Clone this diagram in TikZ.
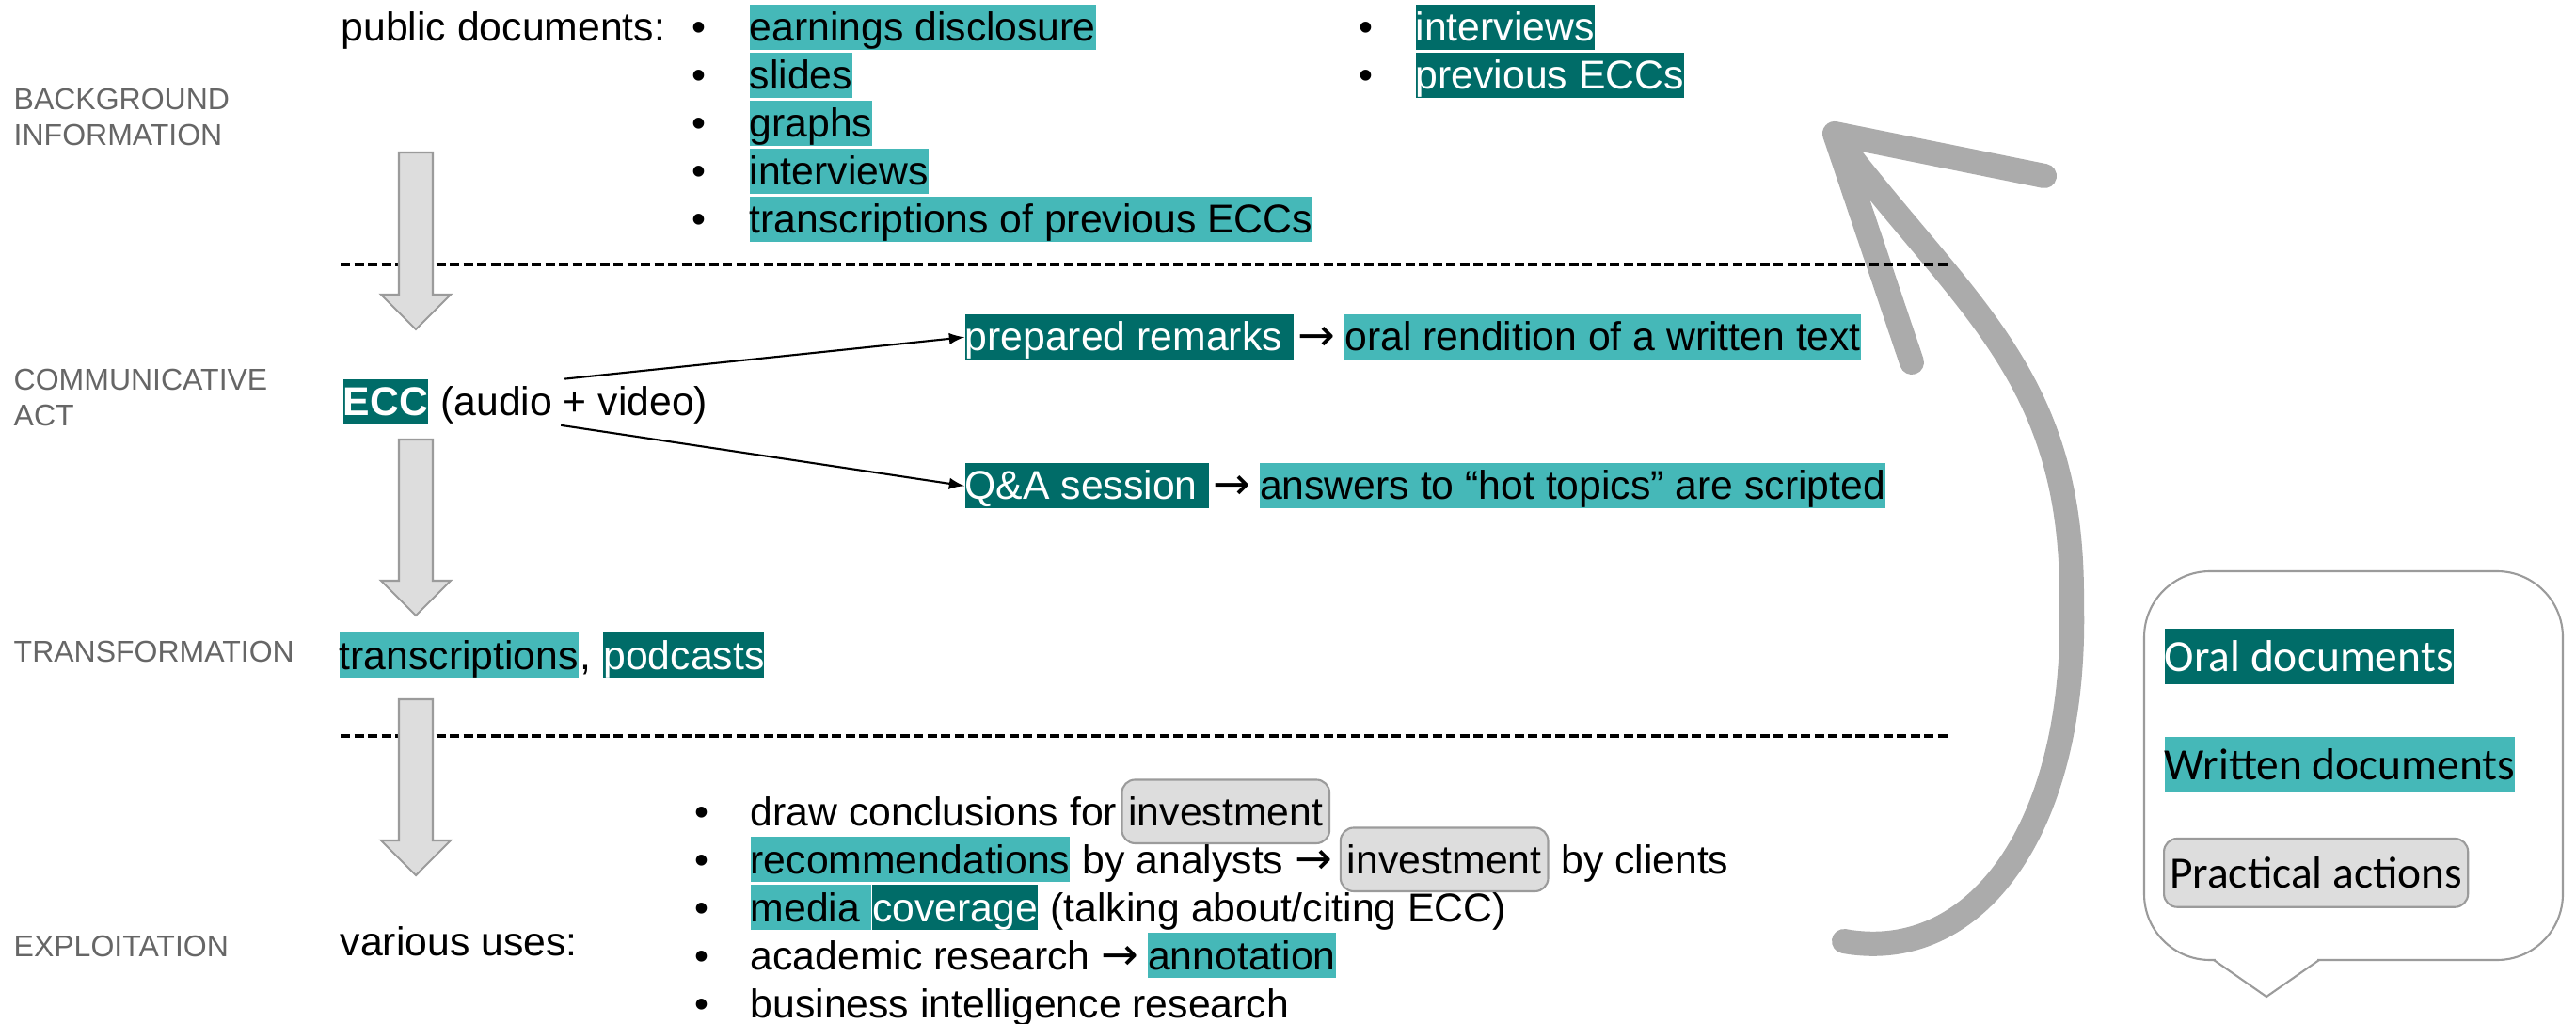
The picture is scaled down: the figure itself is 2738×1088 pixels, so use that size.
\documentclass[tikz,border=0pt]{standalone}
\usepackage{fontspec}
\setmainfont{Liberation Sans}
\newfontfamily\legendfont{Carlito}
\newfontfamily\symbolfont{DejaVu Sans}
\usetikzlibrary{positioning}

\definecolor{oraldark}{RGB}{0,108,104}
\definecolor{writlite}{RGB}{69,184,184}
\definecolor{actfill}{RGB}{221,221,221}
\definecolor{actline}{RGB}{155,155,155}
\definecolor{loopgray}{RGB}{171,171,171}
\definecolor{stagegray}{RGB}{102,102,102}

\newcommand{\docarrow}{{\symbolfont\fontsize{13.5}{14.5}\selectfont →}}
\newcommand{\trail}{\kern0.278em}

\tikzset{
  txt/.style={inner sep=0pt, text height=11pt, text depth=2.6pt, font=\fontsize{12.15}{14.5}\selectfont},
  oral/.style={txt, fill=oraldark, text=white},
  written/.style={txt, fill=writlite},
  practical/.style={txt, fill=actfill, draw=actline, semithick, rounded corners=4pt, inner xsep=2pt, inner ysep=2.8pt},
  legend/.style={inner sep=0pt, text height=12.8pt, text depth=3.9pt, font=\legendfont\fontsize{13.5}{16}\selectfont},
  stage/.style={inner sep=0pt, anchor=north west, align=left, text=stagegray, font=\fontsize{9.1}{10.8}\selectfont},
  stagearrow/.style={fill=actfill, draw=actline, semithick},
  separator/.style={dash pattern=on 0.1cm off 0.045cm, line width=1pt},
}

\begin{document}
\begin{tikzpicture}[x=0.01cm, y=-0.01cm, node distance=3.4pt]
\useasboundingbox (0,0) rectangle (2738,1088);

\node[stage] (background) at (14,93) {BACKGROUND\\INFORMATION};
\node[stage] (commact) at (14,391) {COMMUNICATIVE\\ACT};
\node[stage] (transform) at (14,680) {TRANSFORMATION};
\node[stage] (exploit) at (14,993) {EXPLOITATION};

\draw[loopgray, line width=0.26cm, line cap=round, line join=round]
  (1960,1000) .. controls (2100,1025) and (2208,880) .. (2202,640)
  .. controls (2204,400) and (2090,328) .. (1952,147);
\draw[loopgray, line width=0.26cm, line cap=round, line join=round]
  (2173,187) -- (1950,142) -- (2032,385);

\draw[separator] (362,281) -- (2070,281);
\draw[separator] (362,782) -- (2070,782);

\foreach \top/\tip in {162/350, 467/654, 743/930}
  \draw[stagearrow] (424,\top) -- (460,\top) -- (460,{\tip-37}) -- (479,{\tip-37})
    -- (442,\tip) -- (405,{\tip-37}) -- (424,{\tip-37}) -- cycle;

\node[txt, anchor=base west] (public) at (362,44) {public documents:};
\foreach \doc [count=\i from 0] in {earnings disclosure, slides, graphs, interviews, transcriptions of previous ECCs} {
  \node[txt, anchor=base west] (pubdot\i) at (735,{44+51*\i}) {•};
  \node[written, anchor=base west] (pub\i) at (796,{44+51*\i}) {\doc};
}
\foreach \doc [count=\i from 0] in {interviews, previous ECCs} {
  \node[txt, anchor=base west] (olddot\i) at (1444,{44+51*\i}) {•};
  \node[oral, anchor=base west] (old\i) at (1504,{44+51*\i}) {\doc};
}

\node[oral, anchor=base west] (ecc) at (364,442) {\textbf{ECC}};
\node[txt, right=of ecc] (audio) {(audio + video)};
\node[oral, anchor=base west] (prep) at (1025,373) {prepared remarks\trail};
\node[txt, right=1pt of prep] (prepto) {\docarrow};
\node[written, right=2.4pt of prepto] (rendition) {oral rendition of a written text};
\node[oral, anchor=base west] (qa) at (1025,531) {Q\&A session\trail};
\node[txt, right=1pt of qa] (qato) {\docarrow};
\node[written, right=2.4pt of qato] (answers) {answers to “hot topics” are scripted};
\draw[semithick, -latex] ([xshift=-0.1cm]audio.north) -- (prep.west);
\draw[semithick, -latex] ([xshift=-0.14cm]audio.south) -- (qa.west);

\node[written, anchor=base west] (transcr) at (360,711) {transcriptions};
\node[txt, right=0pt of transcr] (comma) {,};
\node[oral, right=of comma] (podcasts) {podcasts};

\node[txt, anchor=base west] (uses) at (361,1015) {various uses:};
\foreach \i in {0,...,4}
  \node[txt, anchor=base west] (usedot\i) at (738,{877+51*\i}) {•};
\node[txt, anchor=base west] (concl) at (797,877) {draw conclusions for};
\node[practical, right=1pt of concl] (invest) {investment};
\node[written, anchor=base west] (recomm) at (797,928) {recommendations};
\node[txt, right=of recomm] (analysts) {by analysts \docarrow};
\node[practical, right=2pt of analysts] (investclients) {investment};
\node[txt, right=of investclients] (clients) {by clients};
\node[written, anchor=base west] (media) at (797,979) {media\trail};
\node[oral, right=0pt of media] (coverage) {coverage};
\node[txt, right=of coverage] (citing) {(talking about/citing ECC)};
\node[txt, anchor=base west] (academic) at (797,1030) {academic research \docarrow};
\node[written, right=2.4pt of academic] (annotation) {annotation};
\node[txt, anchor=base west] (bi) at (797,1081) {business intelligence research};

\draw[actline, semithick, rounded corners=0.7cm] (2279,607) rectangle (2724,1020);
\draw[white, line width=2pt] (2355,1020) -- (2463,1020);
\draw[actline, semithick, fill=white] (2353,1020) -- (2409,1059) -- (2465,1020);
\node[legend, fill=oraldark, text=white, anchor=base west] (keyoral) at (2300,713) {Oral documents};
\node[legend, fill=writlite, anchor=base west] (keywritten) at (2300,828) {Written documents};
\node[practical, legend, inner xsep=1.7pt, inner ysep=2pt, anchor=base west] (keyaction) at (2299,943) {Practical actions};
\end{tikzpicture}
\end{document}
